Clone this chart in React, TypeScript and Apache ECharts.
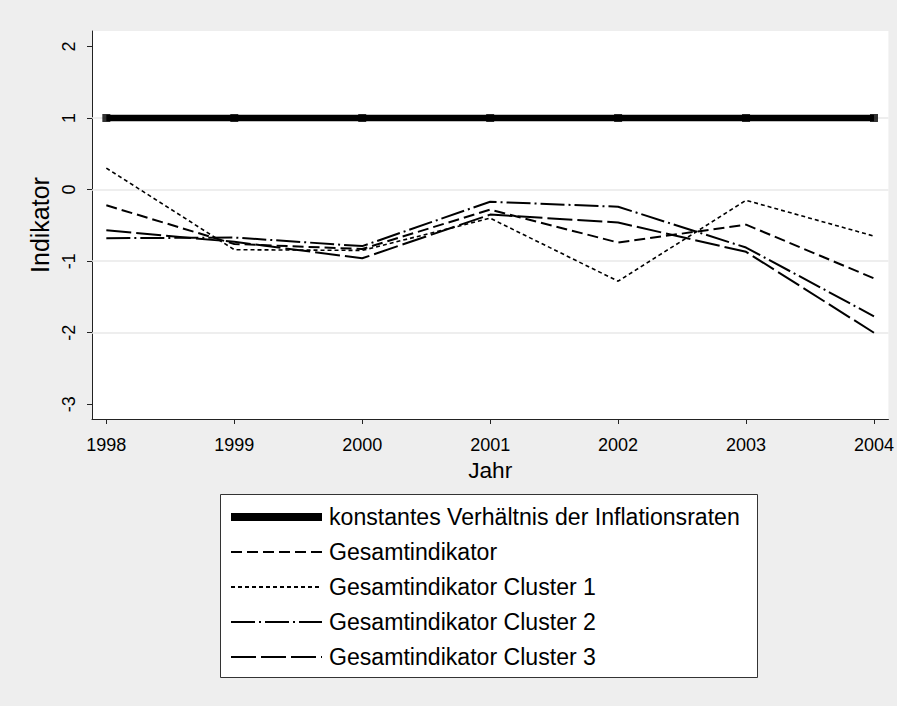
import React, { useEffect, useRef } from "react";
import * as echarts from "echarts";

const years = [1998, 1999, 2000, 2001, 2002, 2003, 2004];
const konstant = [1, 1, 1, 1, 1, 1, 1];
const gesamt = [-0.22, -0.76, -0.83, -0.28, -0.74, -0.49, -1.24];
const cluster1 = [0.3, -0.84, -0.85, -0.4, -1.28, -0.15, -0.65];
const cluster2 = [-0.68, -0.67, -0.79, -0.17, -0.24, -0.81, -1.77];
const cluster3 = [-0.57, -0.73, -0.96, -0.35, -0.46, -0.87, -2.0];
const yTicks = [-3, -2, -1, 0, 1, 2];
const gridValues = [1, 0, -1, -2];

const names = [
  "konstantes Verhältnis der Inflationsraten",
  "Gesamtindikator",
  "Gesamtindikator Cluster 1",
  "Gesamtindikator Cluster 2",
  "Gesamtindikator Cluster 3",
];

const FONT = "'Liberation Sans', Arial, Helvetica, sans-serif";

const pairs = (vals: number[]) => years.map((y, i) => [y, vals[i]]);

export default function App() {
  const ref = useRef<HTMLDivElement>(null);
  useEffect(() => {
    if (!ref.current) return;
    const chart = echarts.init(ref.current, undefined, { renderer: "svg" });
    const styles: { data: number[]; width: number; type: any }[] = [
      { data: konstant, width: 6.5, type: "solid" },
      { data: gesamt, width: 2, type: [11, 5] },
      { data: cluster1, width: 1.6, type: [4, 3] },
      { data: cluster2, width: 2, type: [24, 4, 2, 4] },
      { data: cluster3, width: 2, type: [25, 5] },
    ];
    chart.setOption({
      animation: false,
      backgroundColor: "#eeeeee",
      textStyle: { fontFamily: FONT },
      grid: {
        left: 92,
        right: 8,
        top: 31,
        bottom: 287,
        show: true,
        backgroundColor: "#ffffff",
        borderWidth: 0,
      },
      xAxis: {
        type: "value",
        min: 1997.888,
        max: 2004.113,
        name: "Jahr",
        nameLocation: "middle",
        nameGap: 39,
        nameTextStyle: { fontSize: 22.7, color: "#000", fontFamily: FONT },
        axisLine: { show: true, onZero: false, lineStyle: { color: "#222", width: 1 } },
        axisTick: { show: true, length: 5, customValues: years, lineStyle: { color: "#222" } },
        axisLabel: {
          customValues: years,
          fontSize: 18,
          color: "#000",
          margin: 17,
          fontFamily: FONT,
          formatter: (v: number) => String(v),
        },
        splitLine: { show: false },
      },
      yAxis: {
        type: "value",
        min: -3.205,
        max: 2.215,
        name: "Indikator",
        nameLocation: "middle",
        nameGap: 34,
        nameTextStyle: { fontSize: 25, color: "#000", fontFamily: FONT },
        axisLine: { show: true, onZero: false, lineStyle: { color: "#222", width: 1 } },
        axisTick: { show: true, length: 5, customValues: yTicks, lineStyle: { color: "#222" } },
        axisLabel: {
          customValues: yTicks,
          rotate: 90,
          fontSize: 18,
          color: "#000",
          margin: 14,
          fontFamily: FONT,
          formatter: (v: number) => String(v),
        },
        splitLine: { show: false },
      },
      legend: {
        orient: "vertical",
        left: 227,
        top: 505.5,
        padding: 0,
        itemWidth: 91,
        itemHeight: 23,
        itemGap: 12,
        textStyle: {
          fontSize: 23.1,
          lineHeight: 23,
          color: "#000",
          fontFamily: FONT,
          padding: [0, 0, 0, 2],
        },
        data: names.map((n, i) => ({
          name: n,
          itemStyle: { color: "rgba(0,0,0,0)", borderWidth: 0, opacity: 0 },
          lineStyle: { width: i === 0 ? 8 : 2 },
        })),
        selectedMode: false,
        z: 10,
      },
      graphic: [
        {
          type: "rect",
          z: 0,
          shape: { x: 220.5, y: 494.5, width: 537, height: 183 },
          style: { fill: "#ffffff", stroke: "#333333", lineWidth: 1 },
        },
      ],
      series: [
        {
          type: "line",
          name: "grid",
          data: [],
          z: 1,
          markLine: {
            silent: true,
            z: 1,
            symbol: ["none", "none"],
            label: { show: false },
            lineStyle: { color: "#e8e8e8", width: 1.5, type: "solid" },
            data: gridValues.map((v) => ({ yAxis: v })),
          },
        },
        ...styles.map((s, i) => ({
          type: "line",
          name: names[i],
          data: pairs(s.data),
          symbol: "none",
          showSymbol: false,
          z: 3,
          lineStyle: { color: "#000", width: s.width, type: s.type },
          itemStyle: { color: "#000" },
        })),
        {
          type: "scatter",
          name: "marker",
          data: pairs(konstant),
          symbol: "rect",
          symbolSize: 8,
          z: 4,
          itemStyle: { color: "#000" },
        },
      ],
    });
    return () => chart.dispose();
  }, []);
  return (
    <div
      ref={ref}
      style={{ position: "fixed", left: 0, top: 0, width: 897, height: 706 }}
    />
  );
}
